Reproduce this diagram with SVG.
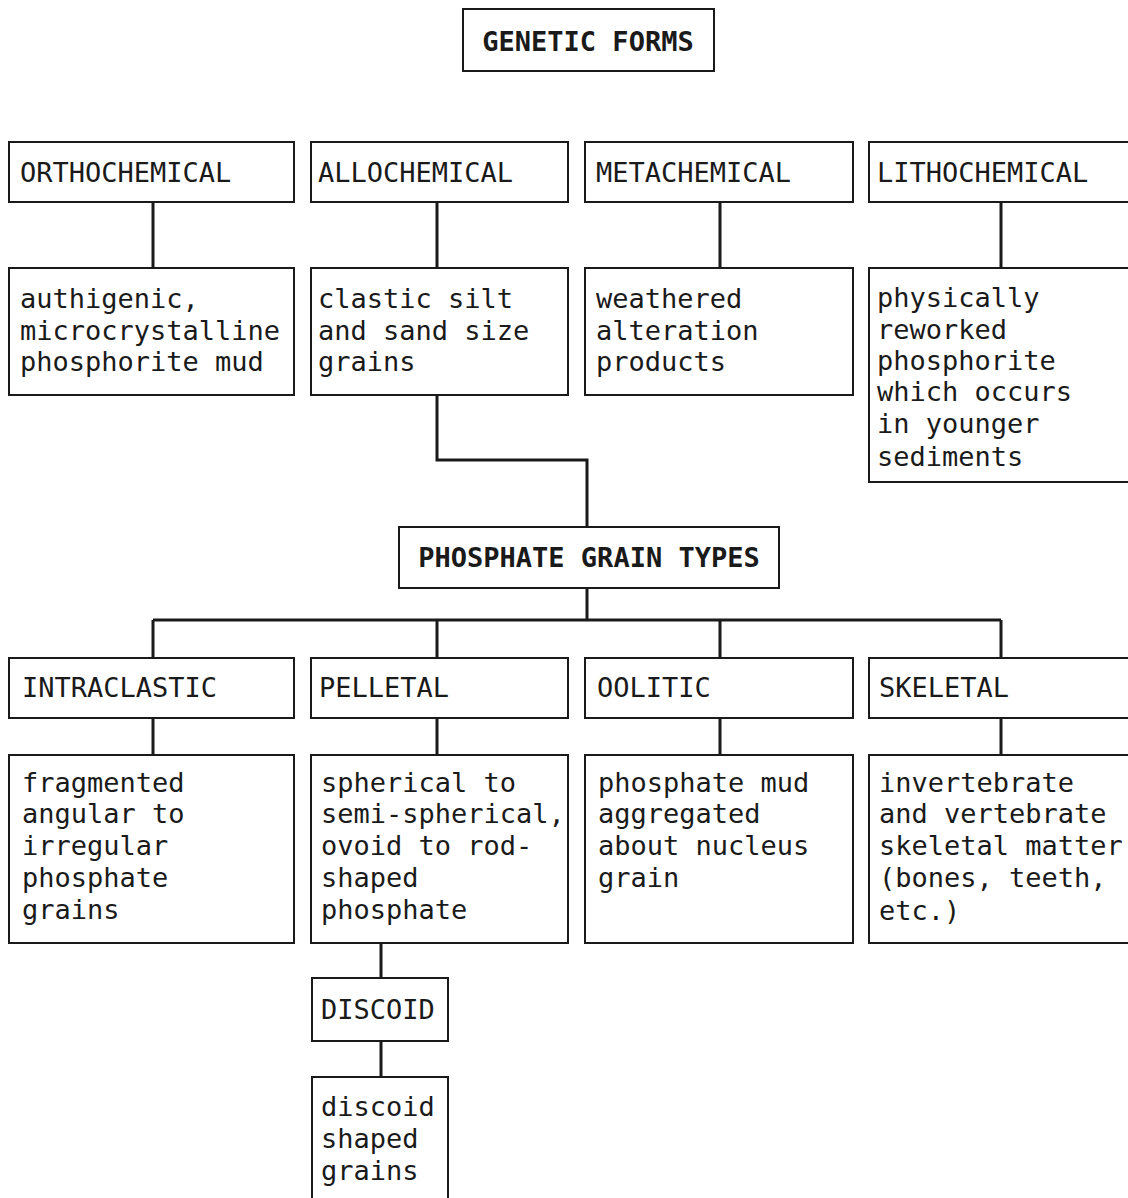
<svg xmlns="http://www.w3.org/2000/svg" width="1128" height="1198" viewBox="0 0 1128 1198">
<style>
.box{fill:#fff;stroke:#1a1a1a;stroke-width:2}
.t{font-family:"DejaVu Sans Mono","Liberation Mono",monospace;font-size:27px;fill:#1a1a1a}
.b{font-weight:bold;text-anchor:middle}
.c{fill:none;stroke:#1a1a1a;stroke-width:3}
</style>
<rect width="1128" height="1198" fill="#fff"/>
<g id="connectors">
<path class="c" d="M153 202V268M437 202V268M720 202V268M1001 202V268"/>
<path class="c" d="M437 395V460H587V527"/>
<path class="c" d="M587 588V620M153 620H1001M153 620V658M437 620V658M720 620V658M1001 620V658"/>
<path class="c" d="M153 718V755M437 718V755M720 718V755M1001 718V755"/>
<path class="c" d="M381 943V978M381 1041V1077"/>
</g>
<g id="genetic-forms"><rect class="box" x="463" y="9" width="251" height="62"/><text class="t b" x="588" y="51">GENETIC FORMS</text></g>
<g id="orthochemical"><rect class="box" x="9" y="142" width="285" height="60"/><text class="t" x="20" y="182">ORTHOCHEMICAL</text></g>
<g id="allochemical"><rect class="box" x="311" y="142" width="257" height="60"/><text class="t" x="318" y="182">ALLOCHEMICAL</text></g>
<g id="metachemical"><rect class="box" x="585" y="142" width="268" height="60"/><text class="t" x="596" y="182">METACHEMICAL</text></g>
<g id="lithochemical"><rect class="box" x="869" y="142" width="270" height="60"/><text class="t" x="877" y="182">LITHOCHEMICAL</text></g>
<g id="ortho-desc"><rect class="box" x="9" y="268" width="285" height="127"/><text class="t" x="20" y="308">authigenic,</text><text class="t" x="20" y="340">microcrystalline</text><text class="t" x="20" y="371">phosphorite mud</text></g>
<g id="allo-desc"><rect class="box" x="311" y="268" width="257" height="127"/><text class="t" x="318" y="308">clastic silt</text><text class="t" x="318" y="340">and sand size</text><text class="t" x="318" y="371">grains</text></g>
<g id="meta-desc"><rect class="box" x="585" y="268" width="268" height="127"/><text class="t" x="596" y="308">weathered</text><text class="t" x="596" y="340">alteration</text><text class="t" x="596" y="371">products</text></g>
<g id="litho-desc"><rect class="box" x="869" y="268" width="270" height="214"/><text class="t" x="877" y="307">physically</text><text class="t" x="877" y="339">reworked</text><text class="t" x="877" y="370">phosphorite</text><text class="t" x="877" y="401">which occurs</text><text class="t" x="877" y="433">in younger</text><text class="t" x="877" y="466">sediments</text></g>
<g id="phosphate-grain-types"><rect class="box" x="399" y="527" width="380" height="61"/><text class="t b" x="589" y="567">PHOSPHATE GRAIN TYPES</text></g>
<g id="intraclastic"><rect class="box" x="9" y="658" width="285" height="60"/><text class="t" x="22" y="697">INTRACLASTIC</text></g>
<g id="pelletal"><rect class="box" x="311" y="658" width="257" height="60"/><text class="t" x="319" y="697">PELLETAL</text></g>
<g id="oolitic"><rect class="box" x="585" y="658" width="268" height="60"/><text class="t" x="597" y="697">OOLITIC</text></g>
<g id="skeletal"><rect class="box" x="869" y="658" width="270" height="60"/><text class="t" x="879" y="697">SKELETAL</text></g>
<g id="intra-desc"><rect class="box" x="9" y="755" width="285" height="188"/><text class="t" x="22" y="792">fragmented</text><text class="t" x="22" y="823">angular to</text><text class="t" x="22" y="855">irregular</text><text class="t" x="22" y="887">phosphate</text><text class="t" x="22" y="919">grains</text></g>
<g id="pellet-desc"><rect class="box" x="311" y="755" width="257" height="188"/><text class="t" x="321" y="792">spherical to</text><text class="t" x="321" y="823">semi-spherical,</text><text class="t" x="321" y="855">ovoid to rod-</text><text class="t" x="321" y="887">shaped</text><text class="t" x="321" y="919">phosphate</text></g>
<g id="oolitic-desc"><rect class="box" x="585" y="755" width="268" height="188"/><text class="t" x="598" y="792">phosphate mud</text><text class="t" x="598" y="823">aggregated</text><text class="t" x="598" y="855">about nucleus</text><text class="t" x="598" y="887">grain</text></g>
<g id="skeletal-desc"><rect class="box" x="869" y="755" width="270" height="188"/><text class="t" x="879" y="792">invertebrate</text><text class="t" x="879" y="823">and vertebrate</text><text class="t" x="879" y="855">skeletal matter</text><text class="t" x="879" y="887">(bones, teeth,</text><text class="t" x="879" y="920">etc.)</text></g>
<g id="discoid"><rect class="box" x="312" y="978" width="136" height="63"/><text class="t" x="321" y="1019">DISCOID</text></g>
<g id="discoid-desc"><rect class="box" x="312" y="1077" width="136" height="140"/><text class="t" x="321" y="1116">discoid</text><text class="t" x="321" y="1148">shaped</text><text class="t" x="321" y="1180">grains</text></g>
</svg>
